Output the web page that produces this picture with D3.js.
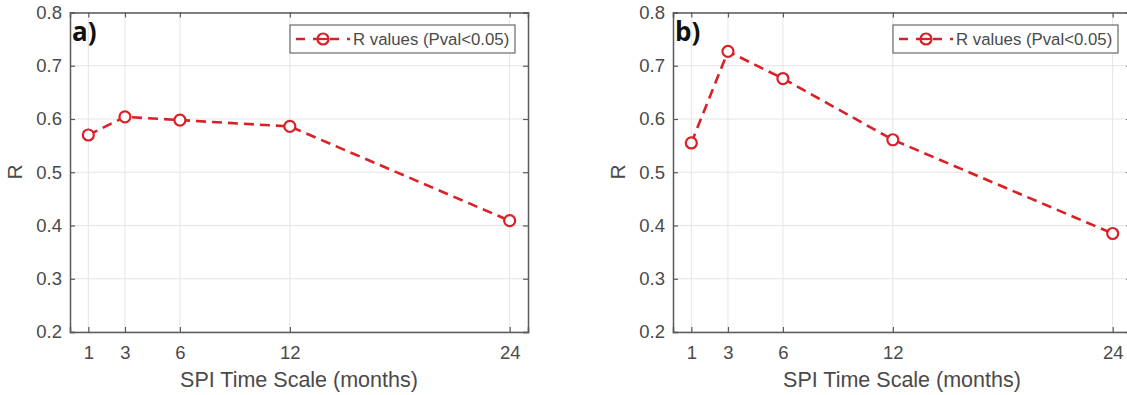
<!DOCTYPE html>
<html><head><meta charset="utf-8">
<script src="https://cdn.jsdelivr.net/npm/d3@7"></script>
<style>body{margin:0;background:#fff;} svg{display:block;font-family:"Liberation Sans",Arial,sans-serif;}</style>
</head><body>
<svg id="c" width="1127" height="395"></svg>
<script>
const scales = [1, 3, 6, 12, 24];
const rA = [0.570, 0.604, 0.598, 0.586, 0.409];
const rB = [0.555, 0.727, 0.676, 0.561, 0.385];
const yTicks = [0.2, 0.3, 0.4, 0.5, 0.6, 0.7, 0.8];
const panelLabels = ["a)", "b)"];
const legendText = "R values (Pval<0.05)";
const xTitle = "SPI Time Scale (months)";
const yTitle = "R";

const svg = d3.select("#c");
const red = "#d92027";
const axisCol = "#5a5a5a";
const txtCol = "#4a4a4a";

const panels = [
  {x0: 70, x1: 528, data: rA, label: panelLabels[0]},
  {x0: 673, x1: 1131, data: rB, label: panelLabels[1]}
];
const plotTop = 12.5, plotBottom = 332;

panels.forEach(p => {
  const g = svg.append("g");
  const x = d3.scaleLinear().domain([0, 25]).range([p.x0, p.x1]);
  const y = d3.scaleLinear().domain([0.2, 0.8]).range([plotBottom, plotTop]);

  // grid
  g.selectAll(".gx").data(scales).enter().append("line")
    .attr("x1", d => x(d)).attr("x2", d => x(d)).attr("y1", plotTop).attr("y2", plotBottom)
    .attr("stroke", "#e4e4e4").attr("stroke-width", 1);
  g.selectAll(".gy").data(yTicks).enter().append("line")
    .attr("x1", p.x0).attr("x2", p.x1).attr("y1", d => y(d)).attr("y2", d => y(d))
    .attr("stroke", "#e4e4e4").attr("stroke-width", 1);

  // axes (bottom & left with inward ticks), box
  const xa = d3.axisBottom(x).tickValues(scales).tickSize(-5).tickPadding(14).tickFormat(d3.format("d"));
  g.append("g").attr("transform", `translate(0,${plotBottom})`).call(xa);
  const ya = d3.axisLeft(y).tickValues(yTicks).tickSize(-5).tickPadding(8).tickFormat(d3.format(".1f"));
  g.append("g").attr("transform", `translate(${p.x0},0)`).call(ya);
  const xt = d3.axisTop(x).tickValues(scales).tickSize(-5).tickFormat("");
  g.append("g").attr("transform", `translate(0,${plotTop})`).call(xt);
  const yr = d3.axisRight(y).tickValues(yTicks).tickSize(-5).tickFormat("");
  g.append("g").attr("transform", `translate(${p.x1},0)`).call(yr);
  g.selectAll(".domain").attr("stroke", axisCol).attr("stroke-width", 1.5);
  g.selectAll(".tick line").attr("stroke", axisCol).attr("stroke-width", 1.2);
  g.selectAll(".tick text").attr("fill", txtCol).style("font-size", "18.5px");

  // titles
  g.append("text").attr("x", p.x0 + 229).attr("y", 387)
    .attr("text-anchor", "middle").attr("fill", txtCol).style("font-size", "21.5px").text(xTitle);
  g.append("text").attr("transform", `translate(${p.x0 - 48},172) rotate(-90)`)
    .attr("text-anchor", "middle").attr("fill", txtCol).style("font-size", "21px").text(yTitle);

  // panel label
  g.append("text").attr("x", p.x0 + 2).attr("y", 41)
    .attr("fill", "#111").style("font-size", "26px").style("font-weight", "bold")
    .style("font-family", "'Open Sans',sans-serif").text(p.label);

  // line
  const pts = scales.map((s, i) => [s, p.data[i]]);
  const line = d3.line().x(d => x(d[0])).y(d => y(d[1]));
  g.append("path").datum(pts).attr("d", line).attr("fill", "none")
    .attr("stroke", red).attr("stroke-width", 2.6).attr("stroke-dasharray", "10,6");
  g.selectAll(".pt").data(pts).enter().append("circle")
    .attr("cx", d => x(d[0])).attr("cy", d => y(d[1])).attr("r", 5.5)
    .attr("fill", "#fff").attr("stroke", red).attr("stroke-width", 2.2);

  // legend
  const lx = p.x0 + 220, ly = 25;
  const lg = g.append("g");
  lg.append("rect").attr("x", lx).attr("y", ly).attr("width", 225).attr("height", 28)
    .attr("fill", "#fff").attr("stroke", "#6a6a6a").attr("stroke-width", 1.2);
  lg.append("line").attr("x1", lx + 6).attr("x2", lx + 60).attr("y1", ly + 14).attr("y2", ly + 14)
    .attr("stroke", red).attr("stroke-width", 2.6).attr("stroke-dasharray", "9,8");
  lg.append("circle").attr("cx", lx + 33).attr("cy", ly + 14).attr("r", 5.5)
    .attr("fill", "#fff").attr("stroke", red).attr("stroke-width", 2.2);
  lg.append("line").attr("x1", lx + 27.5).attr("x2", lx + 38.5).attr("y1", ly + 14).attr("y2", ly + 14)
    .attr("stroke", red).attr("stroke-width", 2.2);
  lg.append("text").attr("x", lx + 63).attr("y", ly + 20).attr("fill", txtCol)
    .style("font-size", "16.8px").text(legendText);
});
</script>
</body></html>
